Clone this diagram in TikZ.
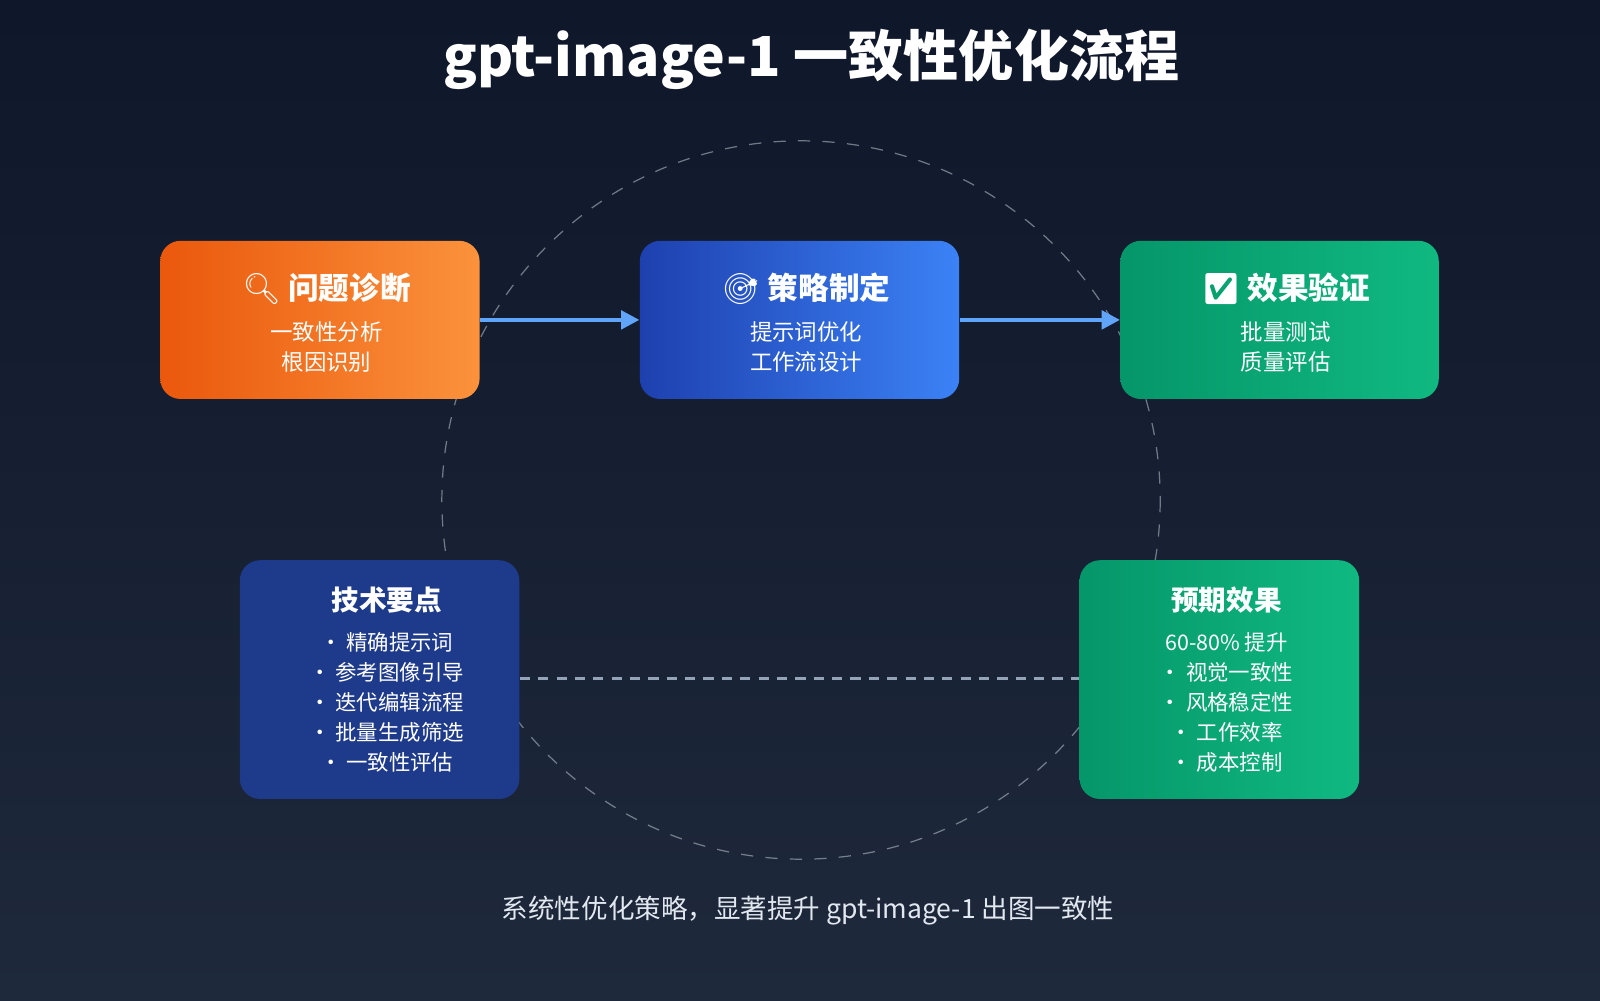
\documentclass[tikz,border=0pt]{standalone}
\usepackage{fontspec}
\setmainfont{Noto Sans CJK SC}
\newfontfamily\emo{Noto Emoji}
\usetikzlibrary{arrows.meta}
\definecolor{bgtop}{HTML}{0F172A}
\definecolor{bgbot}{HTML}{1E293B}
\definecolor{orA}{HTML}{EA580C}
\definecolor{orB}{HTML}{FB923C}
\definecolor{blA}{HTML}{1E40AF}
\definecolor{blB}{HTML}{3B82F6}
\definecolor{grA}{HTML}{059669}
\definecolor{grB}{HTML}{10B981}
\definecolor{navy}{HTML}{1E3A8A}
\definecolor{arrowc}{HTML}{60A5FA}
\definecolor{slate}{HTML}{94A3B8}
\definecolor{lighttext}{HTML}{E2E8F0}
\tikzset{
  card/.style={rounded corners=10pt},
  head/.style={text=white,font=\bfseries\fontsize{15}{18}\selectfont,align=center},
  body/.style={text=white,font=\fontsize{11}{14.6}\selectfont,align=center},
  flow/.style={arrowc,line width=2pt,-{Triangle[length=9pt,width=9pt]}},
}
\begin{document}
\begin{tikzpicture}[x=0.5pt,y=-0.5pt]
\useasboundingbox (0,0) rectangle (1568,980);
\shade[top color=bgtop,bottom color=bgbot] (0,0) rectangle (1568,980);
\draw[slate!45,dashed,dash pattern=on 6pt off 6pt,line width=0.6pt,opacity=0.5] (785,490) circle[radius=352];
\node[text=white,font=\bfseries\fontsize{27}{32}\selectfont] (title) at (795,58) {gpt-image-1 一致性优化流程};
% boxes
\shade[card,left color=orA,right color=orB] (157,236) rectangle (470,391);
\node (b1) at (313.5,313.5) [minimum width=156.5pt,minimum height=77.5pt] {};
\node[head] (h1) at (320,283) {{\emo 🔍} 问题诊断};
\node[body] (t1) at (320,340) {一致性分析\\根因识别};
\shade[card,left color=blA,right color=blB] (627,236) rectangle (940,391);
\node (b2) at (783.5,313.5) [minimum width=156.5pt,minimum height=77.5pt] {};
\node[head] (h2) at (790,283) {{\emo 🎯} 策略制定};
\node[body] (t2) at (790,340) {提示词优化\\工作流设计};
\shade[card,left color=grA,right color=grB] (1098,236) rectangle (1410,391);
\node (b3) at (1254,313.5) [minimum width=156pt,minimum height=77.5pt] {};
\node[head] (h3) at (1260,283) {{\emo ✅} 效果验证};
\node[body] (t3) at (1260,340) {批量测试\\质量评估};
\draw[flow] (b1.east) -- (b2.west);
\draw[flow] (b2.east) -- (b3.west);
\fill[card,navy] (235,549) rectangle (509,783);
\node (b4) at (372,666) [minimum width=137pt,minimum height=117pt] {};
\node[head,font=\bfseries\fontsize{13.5}{16}\selectfont] (h4) at (379,588) {技术要点};
\node[body,font=\fontsize{10.5}{14.7}\selectfont] (t4) at (379,688) {• 精确提示词\\• 参考图像引导\\• 迭代编辑流程\\• 批量生成筛选\\• 一致性评估};
\shade[card,left color=grA,right color=grB] (1058,549) rectangle (1332,783);
\node (b5) at (1195,666) [minimum width=137pt,minimum height=117pt] {};
\node[head,font=\bfseries\fontsize{13.5}{16}\selectfont] (h5) at (1202,588) {预期效果};
\node[body,font=\fontsize{10.5}{14.7}\selectfont] (t5) at (1202,688) {60-80\% 提升\\• 视觉一致性\\• 风格稳定性\\• 工作效率\\• 成本控制};
\draw[slate,line width=1.5pt,dash pattern=on 5pt off 4pt] (b4.east |- 0,665) -- (b5.west |- 0,665);
\node[text=lighttext,font=\fontsize{13}{16}\selectfont] (foot) at (792,892) {系统性优化策略，显著提升 gpt-image-1 出图一致性};
\end{tikzpicture}
\end{document}
